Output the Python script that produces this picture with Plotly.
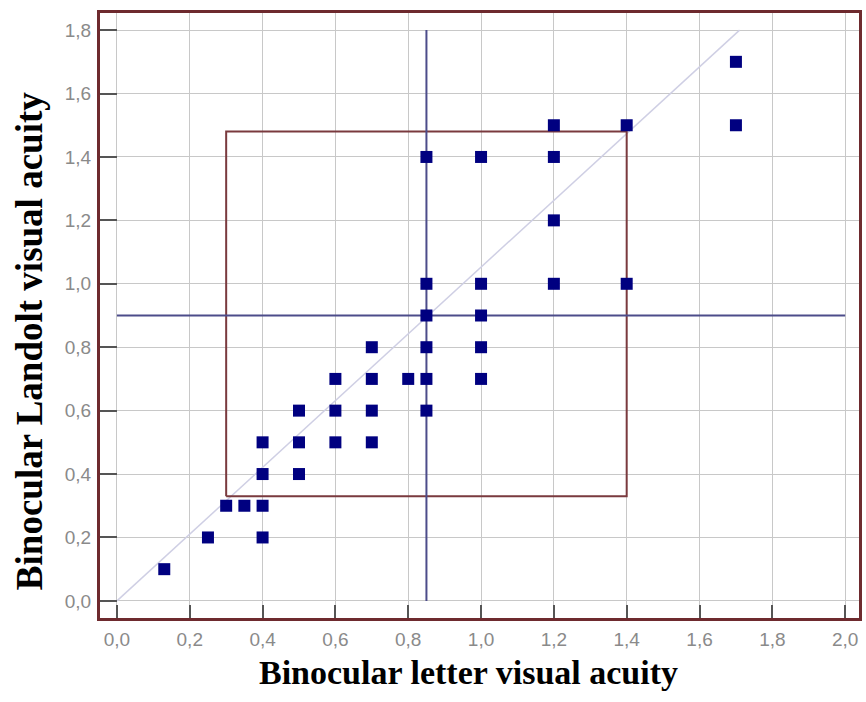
import plotly.graph_objects as go

# Data points (Binocular letter VA vs Binocular Landolt VA)
letter_va = [0.13, 0.25, 0.3, 0.35, 0.4, 0.4, 0.4, 0.4,
             0.5, 0.5, 0.5, 0.6, 0.6, 0.6, 0.7, 0.7, 0.7, 0.7,
             0.8, 0.85, 0.85, 0.85, 0.85, 0.85, 0.85,
             1.0, 1.0, 1.0, 1.0, 1.0, 1.2, 1.2, 1.2, 1.2,
             1.4, 1.4, 1.7, 1.7]
landolt_va = [0.1, 0.2, 0.3, 0.3, 0.2, 0.3, 0.4, 0.5,
              0.4, 0.5, 0.6, 0.5, 0.6, 0.7, 0.5, 0.6, 0.7, 0.8,
              0.7, 0.6, 0.7, 0.8, 0.9, 1.0, 1.4,
              0.7, 0.8, 0.9, 1.0, 1.4, 1.0, 1.2, 1.4, 1.5,
              1.0, 1.5, 1.5, 1.7]

# Reference lines
diag_x = [0.0, 1.71]
diag_y = [0.0, 1.8]
vline_x = [0.85, 0.85]
vline_y = [0.0, 1.8]
hline_x = [0.0, 2.0]
hline_y = [0.9, 0.9]
box_x = [0.3, 1.4, 1.4, 0.3, 0.3]
box_y = [0.33, 0.33, 1.48, 1.48, 0.33]

x_ticks = [0.0, 0.2, 0.4, 0.6, 0.8, 1.0, 1.2, 1.4, 1.6, 1.8, 2.0]
x_ticktext = ["0,0", "0,2", "0,4", "0,6", "0,8", "1,0", "1,2", "1,4", "1,6", "1,8", "2,0"]
y_ticks = [0.0, 0.2, 0.4, 0.6, 0.8, 1.0, 1.2, 1.4, 1.6, 1.8]
y_ticktext = ["0,0", "0,2", "0,4", "0,6", "0,8", "1,0", "1,2", "1,4", "1,6", "1,8"]

fig = go.Figure()
fig.add_trace(go.Scatter(x=diag_x, y=diag_y, mode="lines",
                         line=dict(color="#cfcfe4", width=1.5), hoverinfo="skip"))
fig.add_trace(go.Scatter(x=box_x, y=box_y, mode="lines",
                         line=dict(color="#7a3a3e", width=2), hoverinfo="skip"))
fig.add_trace(go.Scatter(x=vline_x, y=vline_y, mode="lines",
                         line=dict(color="#4c4c8a", width=2), hoverinfo="skip"))
fig.add_trace(go.Scatter(x=hline_x, y=hline_y, mode="lines",
                         line=dict(color="#4c4c8a", width=2), hoverinfo="skip"))
fig.add_trace(go.Scatter(x=letter_va, y=landolt_va, mode="markers",
                         marker=dict(symbol="square", size=12, color="#000080",
                                     line=dict(width=0))))

tickfont = dict(family="Arial, Liberation Sans, sans-serif", size=19, color="#8a8a8a")
fig.update_layout(
    width=866, height=702,
    margin=dict(l=100, r=4, t=13, b=84),
    paper_bgcolor="white", plot_bgcolor="white",
    showlegend=False,
    xaxis=dict(range=[-0.0465, 2.038], tickvals=x_ticks, ticktext=x_ticktext,
               showgrid=True, gridcolor="#c8c8c8", gridwidth=1, zeroline=False,
               ticks="inside", ticklen=13, tickcolor="#555555", tickwidth=2,
               showline=True, linecolor="#6e2a2e", linewidth=3, mirror=True,
               tickfont=tickfont, ticklabelstandoff=2),
    yaxis=dict(range=[-0.054, 1.854], tickvals=y_ticks, ticktext=y_ticktext,
               showgrid=True, gridcolor="#c8c8c8", gridwidth=1, zeroline=False,
               ticks="inside", ticklen=17, tickcolor="#555555", tickwidth=2,
               showline=True, linecolor="#6e2a2e", linewidth=3, mirror=True,
               tickfont=tickfont, ticklabelstandoff=2),
    annotations=[
        dict(text="<b>Binocular letter visual acuity</b>", xref="paper", yref="paper",
             x=0.4856, y=-0.0562, xanchor="center", yanchor="top", showarrow=False,
             font=dict(family="Liberation Serif, Times New Roman, serif", size=34, color="black")),
        dict(text="<b>Binocular Landolt visual acuity</b>", xref="paper", yref="paper",
             x=-0.0919, y=0.458, xanchor="center", yanchor="middle", showarrow=False,
             textangle=-90,
             font=dict(family="Liberation Serif, Times New Roman, serif", size=37, color="black")),
    ],
)

fig.write_html("out.html")
